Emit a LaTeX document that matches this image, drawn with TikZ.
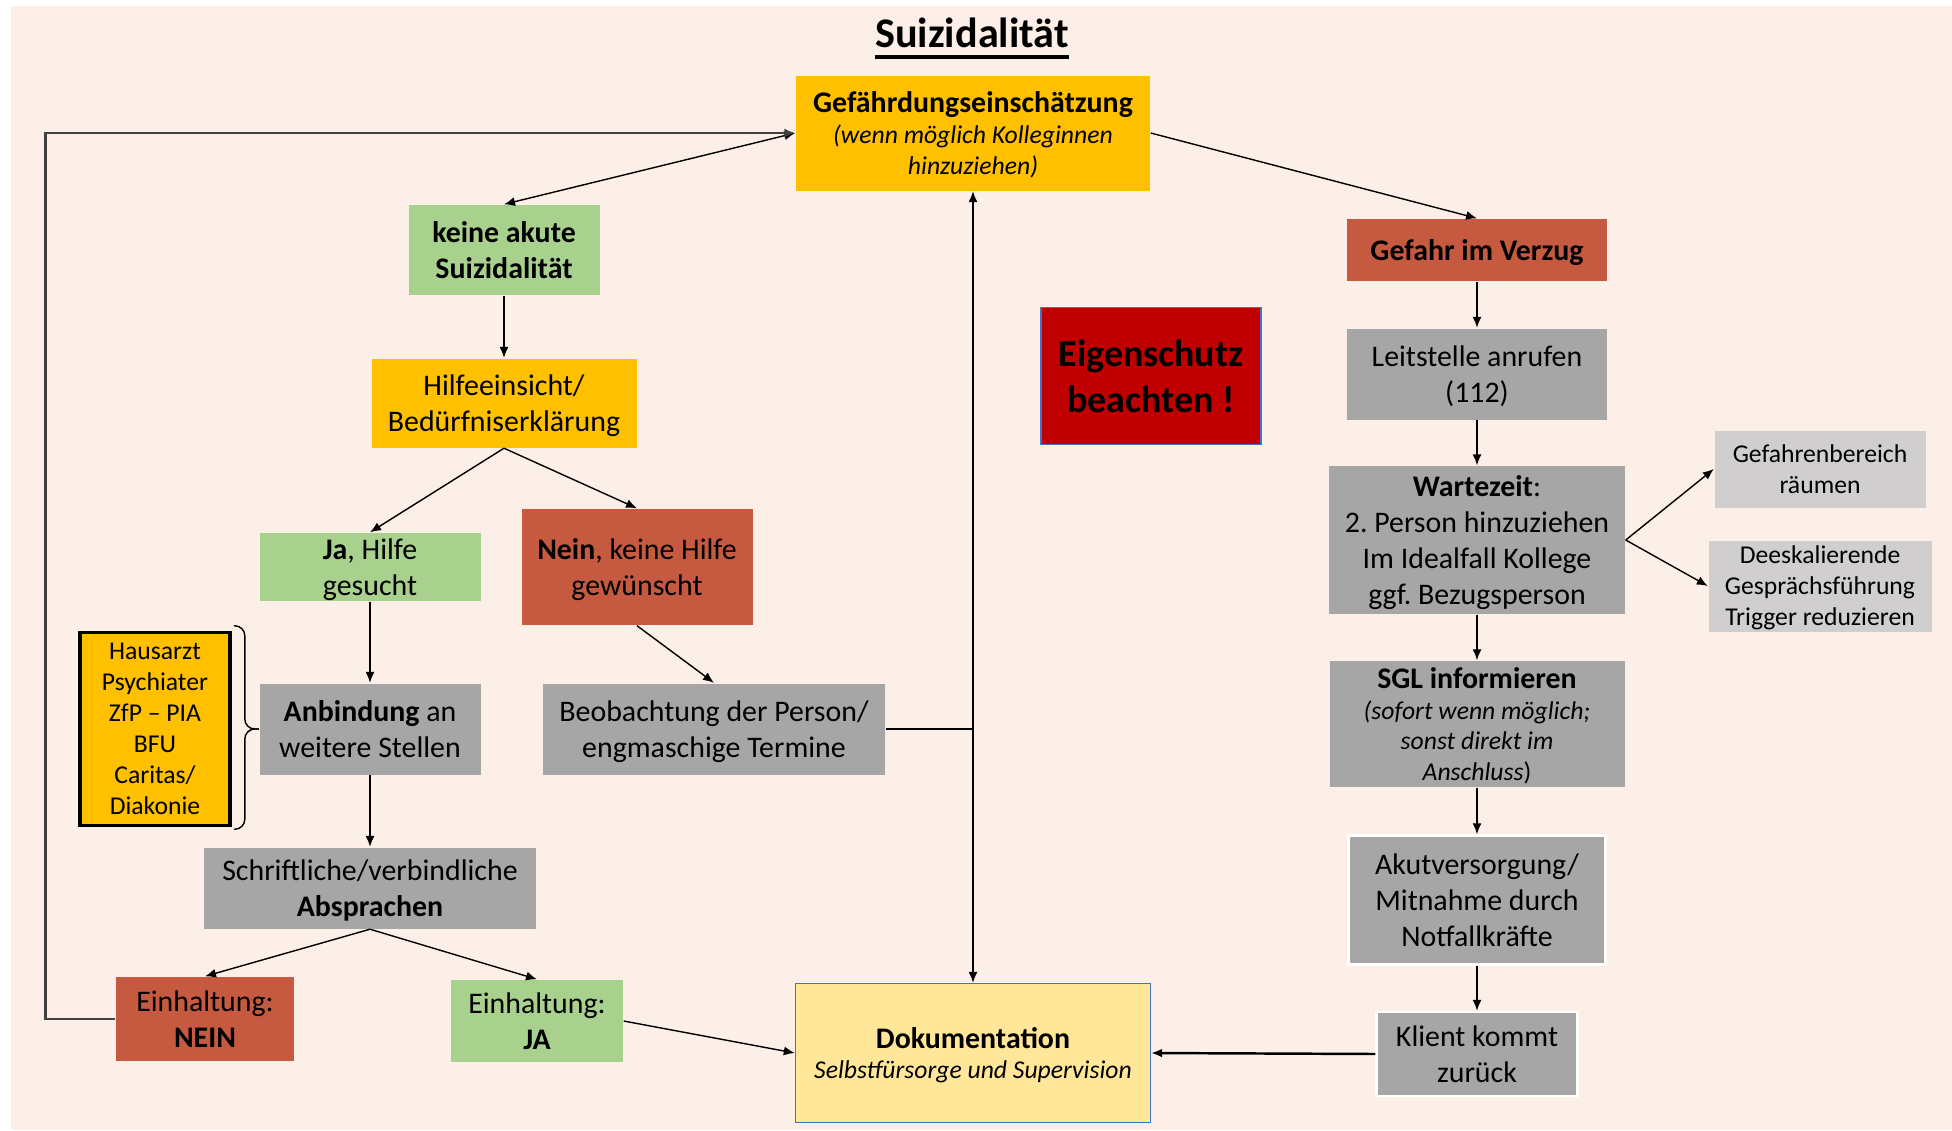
\documentclass[tikz,border=0pt]{standalone}
\usepackage{fontspec}
\setmainfont{Carlito}
\usetikzlibrary{positioning,arrows.meta}
\definecolor{bgpeach}{HTML}{FCEFE7}
\definecolor{boxorange}{HTML}{FFC000}
\definecolor{boxgreen}{HTML}{A9D18E}
\definecolor{boxred}{HTML}{C55A40}
\definecolor{boxgray}{HTML}{A6A6A6}
\definecolor{boxlight}{HTML}{D0CECE}
\definecolor{boxyellow}{HTML}{FFE699}
\definecolor{boxdark}{HTML}{C00000}
\definecolor{rimblue}{HTML}{4472C4}
\newcommand{\normalgr}{\fontsize{8.5}{10.3}\selectfont}
\newcommand{\kleingr}{\fontsize{7.3}{8.8}\selectfont}
\frenchspacing

\begin{document}
\begin{tikzpicture}[x=0.1mm, y=-0.1mm, node distance=1cm,
	>={Latex[length=1.1mm,width=0.9mm]},
	box/.style={rectangle, align=center, inner sep=1pt, text depth=0pt, font=\normalgr, text=black},
	orangebox/.style={box, fill=boxorange},
	greenbox/.style={box, fill=boxgreen},
	redbox/.style={box, fill=boxred},
	graybox/.style={box, fill=boxgray},
	lightbox/.style={box, fill=boxlight, font=\kleingr},
	yellowbox/.style={box, fill=boxyellow, draw=rimblue, thin}]
		\useasboundingbox (0,0) rectangle (1952,1130);
		\fill[bgpeach] (11,6) rectangle (1952,1130);
		
		\node [inner sep=0pt, font=\fontsize{12}{14}\selectfont\bfseries] (title) at (972,33) {Suizidalität};
		\draw[line width=1.1pt]
		([yshift=-2.6pt]title.base west) -- ([yshift=-2.6pt]title.base east);
		
		% linke Seite
		\node [orangebox, minimum width=35.4mm, minimum height=11.5mm, font=\kleingr] (gef) at (973,133)
		{{\normalgr\bfseries Gefährdungseinschätzung}\\{\itshape (wenn möglich Kolleginnen}\\{\itshape hinzuziehen)}};
		\node [greenbox, minimum width=19.1mm, minimum height=9mm, font=\normalgr\bfseries] (keine) at (504,250) {keine akute\\Suizidalität};
		\node [orangebox, minimum width=26.5mm, minimum height=8.9mm, node distance=15.3mm, below of=keine] (hilfe) {Hilfeeinsicht/\\Bedürfniserklärung};
		\node [greenbox, minimum width=22.1mm, minimum height=6.8mm] (ja) at (370,567) {\textbf{Ja}, Hilfe\\gesucht};
		\node [redbox, minimum width=23.1mm, minimum height=11.6mm] (nein) at (637,567) {\textbf{Nein}, keine Hilfe\\gewünscht};
		\node [graybox, minimum width=22.1mm, minimum height=9.1mm, node distance=16.2mm, below of=ja] (anb) {\textbf{Anbindung} an\\weitere Stellen};
		\node [graybox, minimum width=34.2mm, minimum height=9.1mm] (beob) at (714,729) {Beobachtung der Person/\\engmaschige Termine};
		\node [orangebox, draw=black, line width=1pt, minimum width=15mm, minimum height=19.3mm, font=\kleingr] (haus) at (155,729)
		{Hausarzt\\Psychiater\\ZfP – PIA\\BFU\\Caritas/\\Diakonie};
		\node [graybox, minimum width=33.2mm, minimum height=8.1mm, node distance=15.9mm, below of=anb] (schr) {Schriftliche/verbindliche\\\textbf{Absprachen}};
		\node [redbox, minimum width=17.8mm, minimum height=8.4mm] (einn) at (205,1019) {Einhaltung:\\\textbf{NEIN}};
		\node [greenbox, minimum width=17.2mm, minimum height=8.2mm] (einj) at (537,1021) {Einhaltung:\\\textbf{JA}};
		\node [yellowbox, minimum width=35.5mm, minimum height=13.9mm, font=\kleingr] (dok) at (973,1053)
		{{\normalgr\bfseries Dokumentation}\\{\itshape Selbstfürsorge und Supervision}};
		\node [box, fill=boxdark, draw=rimblue, thin, minimum width=22mm, minimum height=13.7mm,
			font=\fontsize{10.8}{13.1}\selectfont\bfseries] (eig) at (1151,376) {Eigenschutz\\beachten !};
		
		% rechte Seite
		\node [redbox, minimum width=26mm, minimum height=6.2mm, font=\normalgr\bfseries] (gv) at (1477,250) {Gefahr im Verzug};
		\node [graybox, minimum width=26mm, minimum height=9.1mm, node distance=12.4mm, below of=gv] (leit) {Leitstelle anrufen\\(112)};
		\node [graybox, minimum width=29.6mm, minimum height=14.8mm, node distance=16.6mm, below of=leit] (wart)
		{\textbf{Wartezeit}:\\2. Person hinzuziehen\\Im Idealfall Kollege\\ggf. Bezugsperson};
		\node [lightbox, minimum width=21.1mm, minimum height=7.7mm] (gb) at (1820,469) {Gefahrenbereich\\räumen};
		\node [lightbox, minimum width=22.3mm, minimum height=9.1mm] (dees) at (1820,586) {Deeskalierende\\Gesprächsführung\\Trigger reduzieren};
		\node [graybox, minimum width=29.5mm, minimum height=12.6mm, font=\kleingr, node distance=18.4mm, below of=wart] (sgl)
		{{\normalgr\bfseries SGL informieren}\\{\itshape (sofort wenn möglich;}\\{\itshape sonst direkt im}\\{\itshape Anschluss})};
		\node [graybox, draw=white, line width=0.7pt, minimum width=25.7mm, minimum height=12.9mm, node distance=17.6mm, below of=sgl] (akut)
		{Akutversorgung/\\Mitnahme durch\\Notfallkräfte};
		\node [graybox, draw=white, line width=0.7pt, minimum width=20.1mm, minimum height=8.4mm, node distance=15.4mm, below of=akut] (kl)
		{Klient kommt\\zurück};
		
		\draw[->]
		(gef.east) -- (gv.north);
		\draw[<->]
		(keine.north) -- (gef.west);
		\draw[->, line width=0.7pt, black!75]
		(einn.west) -- ++(-70,0) |- (gef.west);
		\draw[->]
		(keine.south) -- (hilfe.north);
		\draw[->]
		(hilfe.south) -- (ja.north);
		\draw[->]
		(hilfe.south) -- (nein.north);
		\draw[->]
		(ja.south) -- (anb.north);
		\draw[->]
		(nein.south) -- (beob.north);
		\draw[->]
		(anb.south) -- (schr.north);
		\draw[->]
		(schr.south) -- (einn.north);
		\draw[->]
		(schr.south) -- (einj.north);
		\draw[->]
		(einj.east) -- (dok.west);
		\draw[<->]
		(gef.south) -- (dok.north);
		\draw
		(beob.east) -- (beob.east -| dok.north);
		% Klammer zur Anbindung
		\draw[rounded corners=1mm]
		([xshift=0.2mm, yshift=0.5mm]haus.north east) -| ([xshift=-1.4mm]anb.west) -- (anb.west);
		\draw[rounded corners=1mm]
		([xshift=0.2mm, yshift=-0.2mm]haus.south east) -| ([xshift=-1.4mm]anb.west) -- (anb.west);
		
		\draw[->]
		(gv.south) -- (leit.north);
		\draw[->]
		(leit.south) -- (wart.north);
		\draw[->]
		(wart.east) -- (gb.west);
		\draw[->]
		(wart.east) -- (dees.west);
		\draw[->]
		(wart.south) -- (sgl.north);
		\draw[->]
		(sgl.south) -- (akut.north);
		\draw[->]
		(akut.south) -- (kl.north);
		\draw[->, line width=0.7pt]
		(kl.west) -- (dok.east);
		
		\end{tikzpicture}
\end{document}
